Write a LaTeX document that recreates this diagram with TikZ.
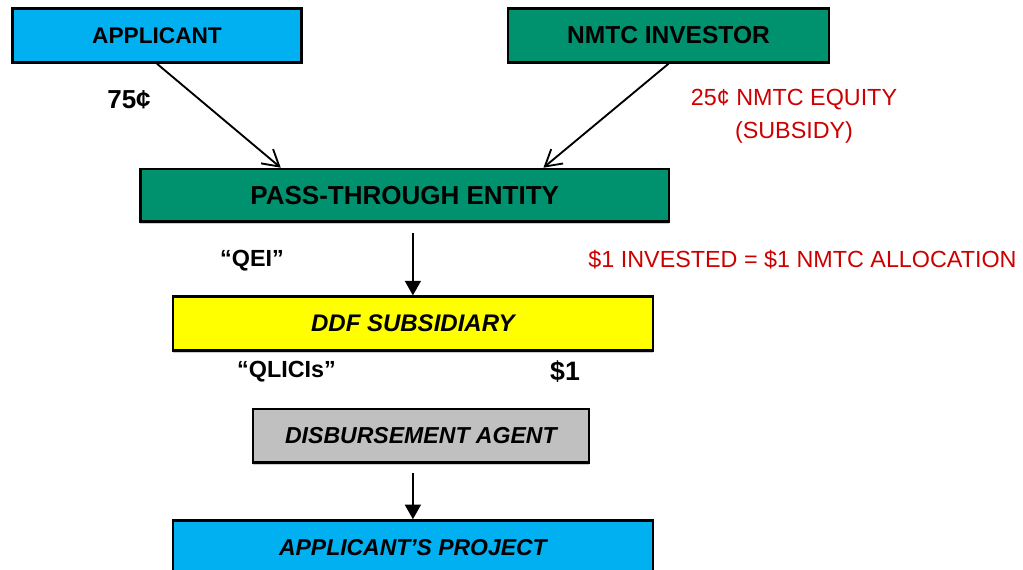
\documentclass[tikz,border=0pt]{standalone}
\usepackage{fontspec}
\setmainfont{Liberation Sans}
\usetikzlibrary{arrows.meta, shadows}
\definecolor{mCyan}{HTML}{00B0F0}
\definecolor{mTeal}{HTML}{00916E}
\definecolor{mYellow}{HTML}{FFFF00}
\definecolor{mGray}{HTML}{C0C0C0}
\definecolor{mRed}{HTML}{CC0000}

\begin{document}
\begin{tikzpicture}[x=0.75pt, y=0.75pt,
    box/.style={draw=black, line width=1.9pt, inner sep=0pt, minimum height=40.5pt,
      drop shadow={shadow xshift=0pt, shadow yshift=-1.5pt, fill=black!40, opacity=0.5}},
    flow/.style={line width=1.4pt, -{Triangle[length=11pt, width=12pt]}},
    feed/.style={line width=1.4pt, -{Straight Barb[length=12pt, width=14pt, line width=1.4pt]}},
    note/.style={font=\bfseries\fontsize{17.5}{20}\selectfont},
    money/.style={text=mRed, align=center, font=\fontsize{17.5}{24.75}\selectfont}]
    \useasboundingbox (0,0) rectangle (1023,570);
    \clip (0,0) rectangle (1023,570);

    % boxes
    \node[box, fill=mCyan, minimum width=216.75pt, font=\bfseries\fontsize{17}{20}\selectfont]
      (applicant) at (157,534.5) {APPLICANT};
    \node[box, fill=mTeal, minimum width=240.75pt, font=\bfseries\fontsize{18.4}{22}\selectfont]
      (investor) at (668.5,534.5) {NMTC INVESTOR};
    \node[box, fill=mTeal, minimum width=396.4pt, minimum height=39.4pt, font=\bfseries\fontsize{19.5}{23}\selectfont]
      (pass) at (404.75,374.75) {PASS-THROUGH ENTITY};
    \node[box, fill=mYellow, minimum width=360.2pt, font=\bfseries\itshape\fontsize{18}{22}\selectfont]
      (ddf) at (412.9,246.3) {DDF SUBSIDIARY};
    \node[box, fill=mGray, minimum width=252.2pt, minimum height=40.3pt, font=\bfseries\itshape\fontsize{17.3}{21}\selectfont]
      (agent) at (420.9,134.1) {DISBURSEMENT AGENT};
    \node[box, fill=mCyan, minimum width=360.2pt, font=\bfseries\itshape\fontsize{17.2}{21}\selectfont]
      (project) at (412.9,22.5) {APPLICANT’S PROJECT};

    % labels
    \node[note, font=\bfseries\fontsize{19.5}{23}\selectfont] (cents) at (129,470) {75¢};
    \node[money] (equity) at (794,453.5) {25¢ NMTC EQUITY\\(SUBSIDY)};
    \node[note] (qei) at (252,309) {“QEI”};
    \node[money] (alloc) at (802.5,310) {\$1 INVESTED = \$1 NMTC ALLOCATION};
    \node[note] (qlici) at (286.5,198) {“QLICIs”};
    \node[note, font=\bfseries\fontsize{20}{24}\selectfont] (dollar) at (565,198) {\$1};

    % arrows
    \draw[feed] (applicant.south) -- ([xshift=-93pt]pass.north);
    \draw[feed] (investor.south) -- ([xshift=104pt]pass.north);
    \draw[flow] (ddf.north |- pass.south) ++(0,-10.5) -- (ddf.north);
    \draw[flow] (project.north |- agent.south) ++(0,-9.3) -- (project.north);
  \end{tikzpicture}
\end{document}
